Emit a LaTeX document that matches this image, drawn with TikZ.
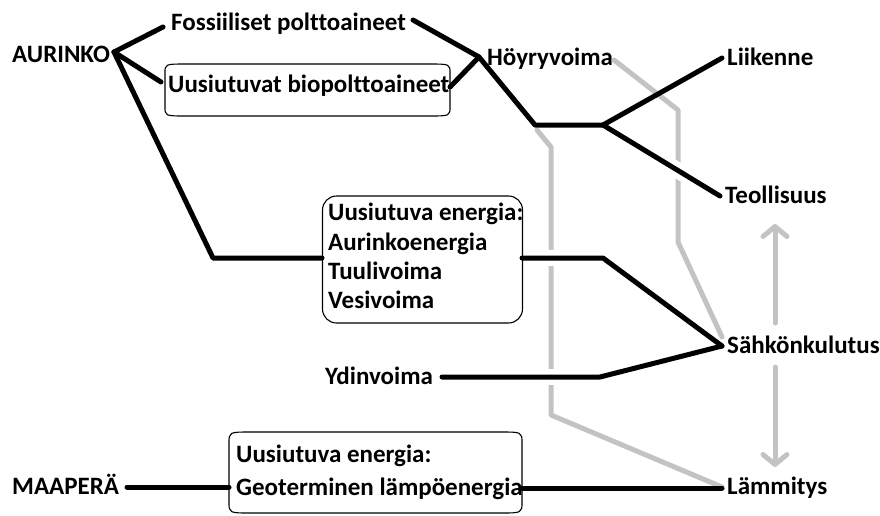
\documentclass[tikz,border=0pt]{standalone}
\usepackage{fontspec}
\setmainfont{Carlito}[Ligatures=NoCommon]
\usetikzlibrary{arrows.meta,calc}
\definecolor{flowgray}{RGB}{195,195,195}
\tikzset{
  txt/.style={font=\bfseries\fontsize{25}{29.2}\selectfont, inner sep=0pt, anchor=base west, align=left},
  blk/.style={line width=5pt, line cap=round, line join=round, black},
  halo/.style={line width=16pt, white},
  gry/.style={line width=5pt, line cap=round, line join=round, flowgray},
  gryarrow/.style={gry, -{Straight Barb[length=10pt,width=24pt,line cap=round,line join=round]}},
  boxline/.style={line width=1.1pt, black},
}
\begin{document}
\begin{tikzpicture}[x=1pt,y=-1pt]
\useasboundingbox (0,0) rectangle (880,515);
% boxes
\draw[boxline] (165,73) .. controls (165,64) .. (187,64) -- (428,64) .. controls (450,64) .. (450,73)
  -- (450,107) .. controls (450,116) .. (428,116) -- (187,116) .. controls (165,116) .. (165,107) -- cycle;
\draw[boxline, rounded corners=14pt] (322.5,196) rectangle (522.5,323);
\draw[boxline] (229,443) .. controls (229,432) .. (251,432) -- (500,432) .. controls (522,432) .. (522,443)
  -- (522,502) .. controls (522,513) .. (500,513) -- (251,513) .. controls (229,513) .. (229,502) -- cycle;
% texts
\node[txt] (aur) at (12,62) {AURINKO};
\node[txt] (fos) at (171,30) {Fossiiliset polttoaineet};
\node[txt] (bio) at (168,92) {Uusiutuvat biopolttoaineet};
\node[txt] (hoy) at (487,65) {Höyryvoima};
\node[txt] (lii) at (727,65) {Liikenne};
\node[txt] (teo) at (725,203) {Teollisuus};
\node[txt] (ue) at (328,308.5) {Uusiutuva energia:\\Aurinkoenergia\\Tuulivoima\\Vesivoima};
\node[txt] (sah) at (727,353) {Sähkönkulutus};
\node[txt] (ydi) at (325,384) {Ydinvoima};
\node[txt] (maa) at (12,494) {MAAPERÄ};
\node[txt, font=\bfseries\fontsize{25}{33}\selectfont] (geo) at (236,495) {Uusiutuva energia:\\Geoterminen lämpöenergia};
\node[txt] (lam) at (727,494) {Lämmitys};
% junction coordinates
\coordinate (aurJ) at (114,52);
\coordinate (fosL) at (163,27);
\coordinate (fosR) at (413,20);
\coordinate (bioL) at (161,82);
\coordinate (bioR) at (450,87);
\coordinate (hoyJ) at (479,57);
\coordinate (bend1) at (535,125);
\coordinate (splitJ) at (603,125);
\coordinate (liiL) at (722,58);
\coordinate (teoL) at (720,196);
\coordinate (ueBend) at (213,258);
\coordinate (ueL) at (322,258);
\coordinate (ueR) at (522,258);
\coordinate (ueBend2) at (603,258);
\coordinate (sahL) at (722,346);
\coordinate (ydiR) at (442,377);
\coordinate (ydiBend) at (600,377);
\coordinate (maaR) at (127,487);
\coordinate (geoL) at (229,487);
\coordinate (geoR) at (522,488);
\coordinate (lamL) at (722,488);
% gray flows
\draw[gry] (614,60) -- (678,110) -- (678,242) -- (722,337);
\draw[gry] (537,130) -- (551,147) -- (551,415) -- (722,487);
\draw[gryarrow] (775,323) -- (775,224);
\draw[gryarrow] (775,367) -- (775,467);
% halos at crossings
\draw[halo] ($(splitJ)!0.5!(teoL)$) -- ($(splitJ)!0.8!(teoL)$);
\draw[halo] (530,258) -- (595,258);
\draw[halo] (450,377) -- (595,377);
% black connectors
\draw[blk] (aurJ) -- (fosL);
\draw[blk] (aurJ) -- (bioL);
\draw[blk] (aurJ) -- (ueBend) -- (ueL);
\draw[blk] (fosR) -- (hoyJ);
\draw[blk] (bioR) -- (hoyJ);
\draw[blk] (hoyJ) -- (bend1) -- (splitJ);
\draw[blk] (splitJ) -- (liiL);
\draw[blk] (splitJ) -- (teoL);
\draw[blk] (ueR) -- (ueBend2) -- (sahL);
\draw[blk] (ydiR) -- (ydiBend) -- (sahL);
\draw[blk] (maaR) -- (geoL);
\draw[blk] (geoR) -- (lamL);
\end{tikzpicture}
\end{document}
